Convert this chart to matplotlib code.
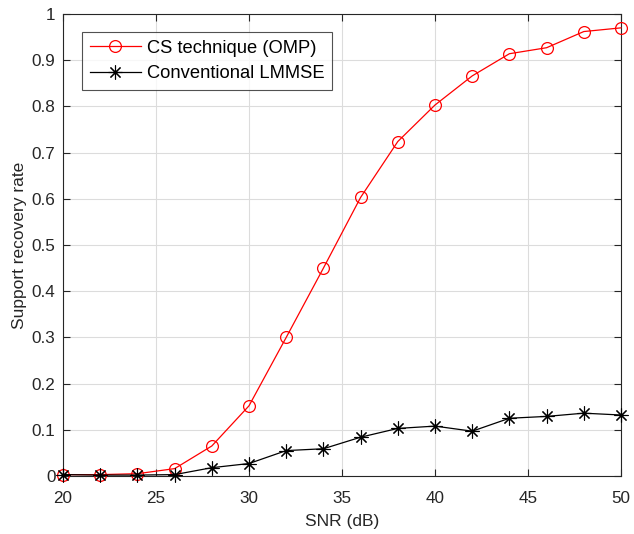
import numpy as np
import matplotlib
matplotlib.use("Agg")
import matplotlib.pyplot as plt

plt.rcParams['font.family'] = ['Liberation Sans', 'DejaVu Sans']

snr = [20, 22, 24, 26, 28, 30, 32, 34, 36, 38, 40, 42, 44, 46, 48, 50]
omp = [0.003, 0.003, 0.005, 0.016, 0.065, 0.152, 0.300, 0.450, 0.603, 0.724,
       0.803, 0.866, 0.914, 0.927, 0.962, 0.970]
lmmse = [0.003, 0.002, 0.002, 0.003, 0.018, 0.027, 0.055, 0.059, 0.084, 0.103,
         0.108, 0.097, 0.125, 0.129, 0.136, 0.132]

fig = plt.figure(figsize=(6.34, 5.34), dpi=100)
ax = fig.add_axes([0.0994, 0.1086, 0.8801, 0.8652])

ax.plot(snr, omp, "-o", color="red", lw=0.9, ms=8.5, mfc="none", mew=0.9,
        label="CS technique (OMP)", clip_on=False, zorder=3)
ax.plot(snr, lmmse, "-", marker=(8, 2, 0), color="black", lw=0.9, ms=10, mew=0.8,
        label="Conventional LMMSE", clip_on=False, zorder=3)

ax.set_xlim(20, 50)
ax.set_ylim(0, 1)
ax.set_xticks(np.arange(20, 51, 5))
ax.set_yticks(np.arange(0, 1.01, 0.1))
ax.set_yticklabels(["0", "0.1", "0.2", "0.3", "0.4", "0.5", "0.6", "0.7", "0.8", "0.9", "1"])
ax.grid(True, color="#dcdcdc", lw=0.8)
ax.set_axisbelow(True)
for s in ax.spines.values():
    s.set_color("#262626"); s.set_linewidth(0.8)
ax.tick_params(direction="in", top=True, right=True, length=5, width=0.8,
               colors="#262626", labelsize=12.3)
ax.tick_params(axis="x", pad=10.5)
ax.tick_params(axis="y", pad=5.5)
ax.set_xlabel("SNR (dB)", fontsize=12.5, color="#262626", labelpad=6)
ax.set_ylabel("Support recovery rate", fontsize=12.5, color="#262626", labelpad=3)

leg = ax.legend(loc="upper left", bbox_to_anchor=(0.034, 0.961), fontsize=13.2,
                frameon=True, fancybox=False, edgecolor="#262626",
                borderpad=0.42, handlelength=2.8, labelspacing=0.45, borderaxespad=0,
                handletextpad=0.3)
leg.get_frame().set_linewidth(0.8)
for t in leg.get_texts():
    t.set_color("black")

plt.savefig("out.png", dpi=100)
